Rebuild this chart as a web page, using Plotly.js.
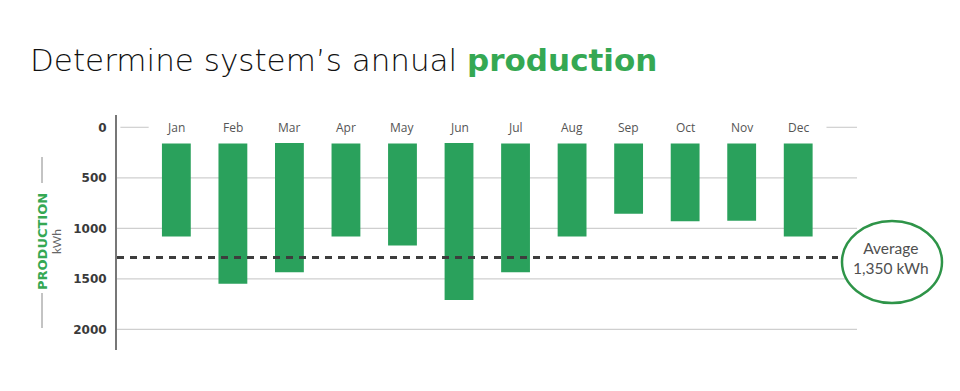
<!DOCTYPE html>
<html>
<head>
<meta charset="utf-8">
<script src="https://cdn.plot.ly/plotly-3.0.1.min.js"></script>
<style>html,body{margin:0;padding:0;background:#fff;} #chart{width:960px;height:391px;}</style>
</head>
<body>
<div id="chart"></div>
<script>
// Data
const months = ["Jan","Feb","Mar","Apr","May","Jun","Jul","Aug","Sep","Oct","Nov","Dec"];
const barStart = [160,160,155,160,160,155,160,160,160,160,160,160];
const barEnd = [1080,1550,1435,1080,1170,1710,1435,1080,855,930,925,1080];
const avgLineLevel = 1290;
const avgLabel = "Average<br>1,350 kWh";
const yTicks = [0,500,1000,1500,2000];

const barLen = barEnd.map((v,i)=>v-barStart[i]);

const trace = {
  type: 'bar',
  x: months,
  y: barLen,
  base: barStart,
  width: 0.51,
  marker: {color: '#2aa15c', line: {width: 0}},
  hoverinfo: 'skip'
};

const monthAnns = months.map(m => ({
  x: m, y: 0, xref: 'x', yref: 'y', text: m, showarrow: false,
  font: {family: '"Open Sans", Lato, sans-serif', size: 12, color: '#555'},
  xanchor: 'center', yanchor: 'middle'
}));

const layout = {
  width: 960, height: 391,
  margin: {l: 117, r: 103, t: 115, b: 41},
  paper_bgcolor: '#fff', plot_bgcolor: '#fff',
  showlegend: false,
  bargap: 0.49,
  title: {
    text: 'Determine system\u2019s annual <b><span style="color:#35a853">production</span></b>',
    font: {family: '"DejaVu Sans", sans-serif', size: 31, color: '#111', weight: 300},
    xref: 'container', yref: 'container', x: 30/960, xanchor: 'left', y: 1 - 60/391, yanchor: 'middle'
  },
  xaxis: {
    type: 'category', range: [-1.05, 12.04],
    showticklabels: false, showgrid: false, zeroline: false, showline: false, ticks: ''
  },
  yaxis: {
    range: [2205, -122], tickvals: yTicks, ticktext: yTicks.map(String),
    showgrid: false, zeroline: false,
    showline: true, linecolor: '#777', linewidth: 2,
    ticks: '', ticklabelstandoff: 6,
    tickfont: {family: '"DejaVu Sans", sans-serif', size: 12, color: '#3a3a3a', weight: 'bold'}
  },
  shapes: [
    // grid lines
    ...yTicks.filter(v=>v>0).map(v => ({type:'line', xref:'paper', yref:'y', x0:0, x1:1, y0:v, y1:v, line:{color:'#cfcfcf', width:1.2}, layer:'below'})),
    {type:'line', xref:'x', yref:'y', x0:-0.99, x1:-0.49, y0:0, y1:0, line:{color:'#cfcfcf', width:1.2}, layer:'below'},
    {type:'line', xref:'x', yref:'y', x0:11.5, x1:12.04, y0:0, y1:0, line:{color:'#cfcfcf', width:1.2}, layer:'below'},
    // average dashed line
    {type:'line', xref:'paper', yref:'y', x0:0, x1:(838-117)/740, y0:avgLineLevel, y1:avgLineLevel, line:{color:'#3d3d3d', width:3, dash:'7px,6px'}, layer:'above'},
    // ellipse
    {type:'circle', xref:'paper', yref:'paper', x0:(842-117)/740, x1:(942-117)/740, y0:(350-303)/235, y1:(350-221)/235, line:{color:'#2e9448', width:2.5}, fillcolor:'#fff', layer:'above'},
    // y-title side lines
    {type:'line', xref:'paper', yref:'paper', x0:(42-117)/740, x1:(42-117)/740, y0:(350-157)/235, y1:(350-183)/235, line:{color:'#888', width:1}},
    {type:'line', xref:'paper', yref:'paper', x0:(42-117)/740, x1:(42-117)/740, y0:(350-293)/235, y1:(350-328)/235, line:{color:'#888', width:1}}
  ],
  annotations: [
    ...monthAnns,
    {xref:'paper', yref:'paper', x:(891-117)/740, y:(350-258)/235, text: avgLabel, showarrow:false,
     font:{family:'Lato, "Open Sans", sans-serif', size:15.5, color:'#4f4f4f'}, xanchor:'center', yanchor:'middle', align:'center'},
    {xref:'paper', yref:'paper', x:(42-117)/740, y:(350-242)/235, text:'<b>PRODUCTION</b>', showarrow:false, textangle:-90,
     font:{family:'"DejaVu Sans", sans-serif', size:13, color:'#35a853'}, xanchor:'center', yanchor:'middle'},
    {xref:'paper', yref:'paper', x:(56-117)/740, y:(350-242)/235, text:'kWh', showarrow:false, textangle:-90,
     font:{family:'Lato, "Open Sans", sans-serif', size:12, color:'#666'}, xanchor:'center', yanchor:'middle'}
  ]
};

Plotly.newPlot('chart', [trace], layout, {displayModeBar: false, staticPlot: true});
</script>
</body>
</html>
